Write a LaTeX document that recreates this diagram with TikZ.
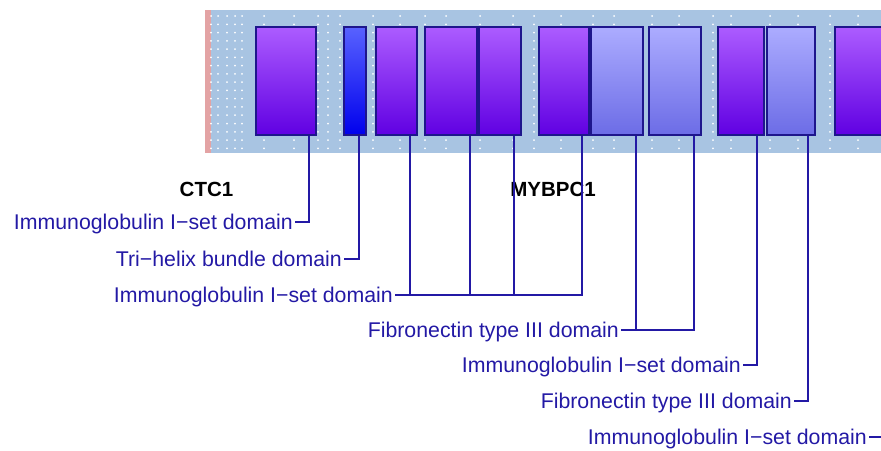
\documentclass[tikz,border=0pt]{standalone}
\usepackage{fontspec}
\setmainfont{Liberation Sans}
\usepackage{tikz}
\usetikzlibrary{positioning, calc}

\definecolor{bandblue}{HTML}{A8C4E2}
\definecolor{stripred}{HTML}{E3A3A4}
\definecolor{domedge}{RGB}{30,22,140}
\definecolor{linkblue}{RGB}{35,25,165}
\definecolor{violettop}{RGB}{172,92,255}
\definecolor{violetbot}{RGB}{96,0,226}
\definecolor{helixtop}{RGB}{88,98,255}
\definecolor{helixbot}{RGB}{0,0,236}
\definecolor{fibtop}{RGB}{172,172,255}
\definecolor{fibbot}{RGB}{108,108,230}

\begin{document}
\begin{tikzpicture}[x=1pt, y=-1pt,
  dom/.style={rectangle, draw=domedge, line width=1.4pt, minimum height=108pt, inner sep=0pt},
  igdom/.style={dom, top color=violettop, bottom color=violetbot},
  helixdom/.style={dom, top color=helixtop, bottom color=helixbot},
  fibdom/.style={dom, top color=fibtop, bottom color=fibbot},
  lbl/.style={anchor=east, text=linkblue, font=\fontsize{21.3}{24}\selectfont,
              text height=15pt, text depth=0pt, inner xsep=2pt, inner ysep=0pt},
  gene/.style={font=\fontsize{20.5}{24}\selectfont\bfseries,
               text height=15pt, text depth=0pt, inner sep=0pt},
  link/.style={draw=linkblue, line width=1.7pt},
]
\clip (0,0) rectangle (881,450);

% protein band
\fill[stripred] (205,10) rectangle (211,153);
\fill[bandblue] (211,10) rectangle (900,153);
\foreach \dx in {211,218,227,235,242,264,294,318,328,340,373,400,425,446,480,513,
                 534,561,593,614,652,679,713,731,770,798,830,858}
  \foreach \r in {0,...,16}
    \fill[white] ({\dx},{16+8.27*\r}) circle (1pt);

% domains
\node[igdom, minimum width=60pt]    (dom1)  at (286,81)   {};
\node[helixdom, minimum width=22pt] (dom2)  at (355,81)   {};
\node[igdom, minimum width=41pt]    (dom3)  at (396.5,81) {};
\node[igdom, minimum width=52pt]    (dom4)  at (451,81)   {};
\node[igdom, minimum width=42pt]    (dom5)  at (500,81)   {};
\node[igdom, minimum width=50pt]    (dom6)  at (564,81)   {};
\node[fibdom, minimum width=52pt]   (dom7)  at (617,81)   {};
\node[fibdom, minimum width=52pt]   (dom8)  at (675,81)   {};
\node[igdom, minimum width=46pt]    (dom9)  at (741,81)   {};
\node[fibdom, minimum width=48pt]   (dom10) at (791,81)   {};
\node[igdom, minimum width=56pt]    (dom11) at (863,81)   {};

\foreach \i in {1,...,11}
  \coordinate (p\i) at ([xshift=-7.5pt]dom\i.south east);

% gene names
\node[gene] (ctc1)   at (206.5,189) {CTC1};
\node[gene] (mybpc1) at (553,189)   {MYBPC1};

% domain labels
\node[lbl] (lab1) at (295,222) {Immunoglobulin I−set domain};
\node[lbl] (lab2) at (344,259) {Tri−helix bundle domain};
\node[lbl] (lab3) at (395,295) {Immunoglobulin I−set domain};
\node[lbl] (lab4) at (621,330) {Fibronectin type III domain};
\node[lbl] (lab5) at (743,365) {Immunoglobulin I−set domain};
\node[lbl] (lab6) at (794,401) {Fibronectin type III domain};
\node[lbl] (lab7) at (869,437) {Immunoglobulin I−set domain};

% connectors
\draw[link] (p1) |- (lab1.east);
\draw[link] (p2) |- (lab2.east);
\draw[link] (p6) |- (lab3.east);
\draw[link] (p3) -- (p3 |- lab3.east);
\draw[link] (p4) -- (p4 |- lab3.east);
\draw[link] (p5) -- (p5 |- lab3.east);
\draw[link] (p8) |- (lab4.east);
\draw[link] (p7) -- (p7 |- lab4.east);
\draw[link] (p9) |- (lab5.east);
\draw[link] (p10) |- (lab6.east);
\draw[link] (p11) |- (lab7.east);
\end{tikzpicture}
\end{document}
